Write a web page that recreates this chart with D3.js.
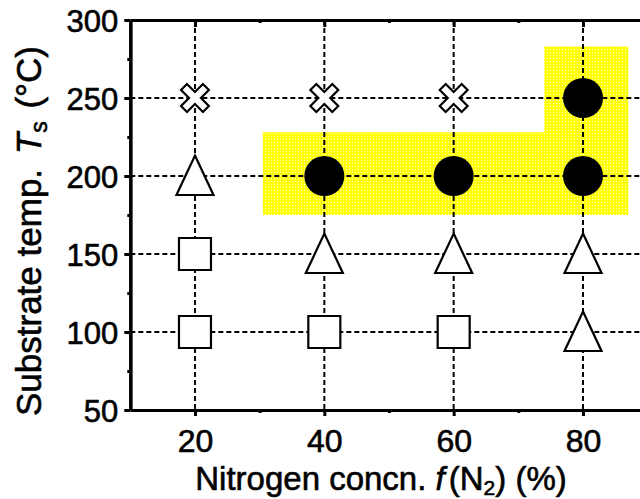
<!DOCTYPE html>
<html>
<head>
<meta charset="utf-8">
<script src="https://cdn.jsdelivr.net/npm/d3@7"></script>
<style>
  html, body { margin: 0; padding: 0; background: #fff; }
  svg { display: block; font-family: "Liberation Sans", Arial, Helvetica, sans-serif; }
  text { stroke: #000; stroke-width: 0.6px; paint-order: stroke; }
</style>
</head>
<body>
<svg id="chart" width="640" height="499"></svg>
<script>
// Deposition runs: nitrogen concentration (%), substrate temperature (°C), resulting phase marker
const concN2  = [20, 20, 20, 20, 40, 40, 40, 40, 60, 60, 60, 60, 80, 80, 80, 80];
const tempTs  = [100, 150, 200, 250, 100, 150, 200, 250, 100, 150, 200, 250, 100, 150, 200, 250];
const outcome = ["square", "square", "triangle", "cross",
                 "square", "triangle", "circle", "cross",
                 "square", "triangle", "circle", "cross",
                 "triangle", "triangle", "circle", "circle"];

// Highlighted process window (outline vertices)
const regionN2 = [30.5, 87, 87, 74, 74, 30.5];
const regionTs = [175, 175, 283, 283, 228, 228];

// Axis ticks
const xTicks = [20, 40, 60, 80];
const xMinor = [30, 50, 70];
const yTicks = [50, 100, 150, 200, 250, 300];
const yMinor = [75, 125, 175, 225, 275];
const xGrid = [20, 40, 60, 80];
const yGrid = [100, 150, 200, 250];

const svg = d3.select("#chart");
const x = d3.scaleLinear().domain([10, 90]).range([130.3, 647.7]);
const y = d3.scaleLinear().domain([50, 300]).range([410, 20]);

// Halftone yellow fill
const defs = svg.append("defs");
const pat = defs.append("pattern").attr("id", "halftone")
  .attr("patternUnits", "userSpaceOnUse").attr("width", 3).attr("height", 3);
pat.append("rect").attr("width", 3).attr("height", 3).attr("fill", "#ffff00");
pat.append("circle").attr("cx", 1.5).attr("cy", 1.5).attr("r", 0.7).attr("fill", "#ffffb8");

const region = d3.range(regionN2.length).map(i => [x(regionN2[i]), y(regionTs[i])]);
svg.append("path")
  .attr("d", d3.line()(region) + "Z")
  .attr("fill", "url(#halftone)");

// Dashed grid
const grid = svg.append("g").attr("stroke", "#000").attr("stroke-width", 2)
  .attr("stroke-dasharray", "5,3").attr("fill", "none");
grid.selectAll("line.v").data(xGrid).join("line").attr("class", "v")
  .attr("x1", d => x(d)).attr("x2", d => x(d)).attr("y1", y(300)).attr("y2", y(50));
grid.selectAll("line.h").data(yGrid).join("line").attr("class", "h")
  .attr("x1", x(10)).attr("x2", x(90)).attr("y1", d => y(d)).attr("y2", d => y(d));

// Marker shapes
const shapes = {
  circle: {
    draw(ctx) { ctx.moveTo(20, 0); ctx.arc(0, 0, 20, 0, 2 * Math.PI); }
  },
  square: {
    draw(ctx) { ctx.rect(-16, -16, 32, 32); }
  },
  triangle: {
    draw(ctx) { ctx.moveTo(0, -20.5); ctx.lineTo(18.5, 19); ctx.lineTo(-18.5, 19); ctx.closePath(); }
  },
  cross: {
    draw(ctx) {
      const w = 4.2, L = 15.5;
      const pts = [[w, w], [L, w], [L, -w], [w, -w], [w, -L], [-w, -L], [-w, -w], [-L, -w], [-L, w], [-w, w], [-w, L], [w, L]];
      const c = Math.SQRT1_2;
      pts.forEach((p, i) => {
        const px = (p[0] - p[1]) * c, py = (p[0] + p[1]) * c;
        if (i === 0) ctx.moveTo(px, py); else ctx.lineTo(px, py);
      });
      ctx.closePath();
    }
  }
};

const runs = d3.range(concN2.length).map(i => ({ n: concN2[i], t: tempTs[i], kind: outcome[i] }));
svg.append("g").selectAll("path").data(runs).join("path")
  .attr("transform", d => `translate(${x(d.n)},${y(d.t)})`)
  .attr("d", d => d3.symbol().type(shapes[d.kind])())
  .attr("fill", d => d.kind === "circle" ? "#000" : "#fff")
  .attr("stroke", d => d.kind === "circle" ? "none" : "#000")
  .attr("stroke-width", 2.2)
  .attr("stroke-linejoin", "miter");

// Axes
function styleAxis(g) {
  g.select(".domain").attr("stroke-width", 3.2);
  g.selectAll(".tick line").attr("stroke-width", 3);
}

svg.append("g").attr("transform", `translate(0,${y(50)})`)
  .call(d3.axisBottom(x).tickValues(xMinor).tickSize(3).tickSizeOuter(0).tickFormat(""))
  .call(styleAxis);
svg.append("g").attr("transform", `translate(0,${y(300)})`)
  .call(d3.axisTop(x).tickValues(xMinor).tickSize(-3).tickSizeOuter(0).tickFormat(""))
  .call(styleAxis);
svg.append("g").attr("transform", `translate(0,${y(300)})`)
  .call(d3.axisTop(x).tickValues(xTicks).tickSize(-7).tickSizeOuter(0).tickFormat(""))
  .call(styleAxis);
svg.append("g").attr("transform", `translate(${x(10)},0)`)
  .call(d3.axisLeft(y).tickValues(yMinor).tickSize(3).tickSizeOuter(0).tickFormat(""))
  .call(styleAxis);

const xAxis = svg.append("g").attr("transform", `translate(0,${y(50)})`)
  .call(d3.axisBottom(x).tickValues(xTicks).tickSize(6).tickSizeOuter(0).tickPadding(13))
  .call(styleAxis);
xAxis.selectAll("text").attr("font-size", 32).attr("fill", "#000")
  .attr("font-family", "'Liberation Sans', Arial, sans-serif");

const yAxis = svg.append("g").attr("transform", `translate(${x(10)},0)`)
  .call(d3.axisLeft(y).tickValues(yTicks).tickSize(6).tickSizeOuter(0).tickPadding(6))
  .call(styleAxis);
yAxis.selectAll("text").attr("font-size", 31).attr("fill", "#000").attr("dy", "0.36em")
  .attr("font-family", "'Liberation Sans', Arial, sans-serif");

// Axis titles
const xTitle = svg.append("text").attr("x", 381).attr("y", 490)
  .attr("text-anchor", "middle").attr("font-size", 33).attr("fill", "#000");
xTitle.append("tspan").text("Nitrogen concn. ");
xTitle.append("tspan").attr("font-style", "italic").text("f");
xTitle.append("tspan").attr("dx", 4).text("(N");
xTitle.append("tspan").attr("font-size", 21).attr("dy", 5).text("2");
xTitle.append("tspan").attr("dy", -5).text(") (%)");

const yTitle = svg.append("text").attr("transform", "translate(41,231) rotate(-90)")
  .attr("text-anchor", "middle").attr("font-size", 35).attr("fill", "#000");
yTitle.append("tspan").text("Substrate temp. ");
yTitle.append("tspan").attr("dx", 5).attr("font-style", "italic").text("T");
yTitle.append("tspan").attr("font-size", 23).attr("dy", 6).text("s");
yTitle.append("tspan").attr("dy", -6).attr("dx", 3).text(" (°C)");
</script>
</body>
</html>
